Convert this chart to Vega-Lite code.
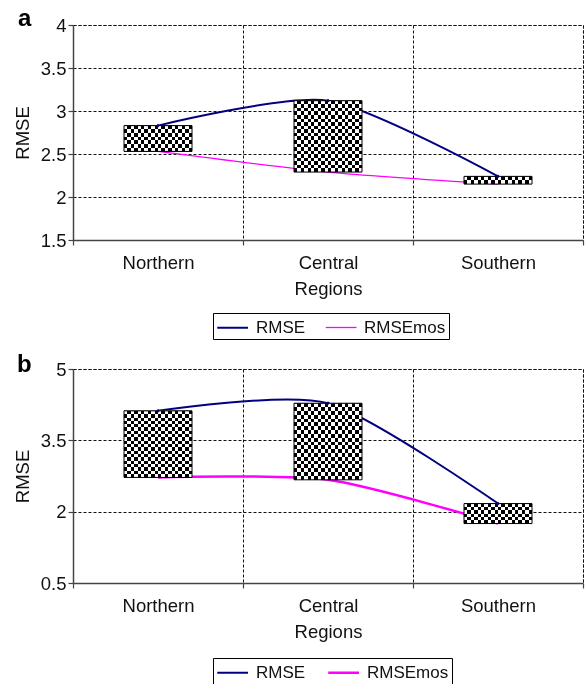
{
  "$schema": "https://vega.github.io/schema/vega-lite/v6.json",
  "background": "white",
  "padding": {"left": 12, "top": 6, "right": 4, "bottom": 2},
  "config": {
    "font": "Liberation Sans",
    "view": {"stroke": "#111", "strokeDash": [3, 2], "strokeWidth": 1},
    "concat": {"spacing": 12},
    "axis": {
      "labelFont": "Liberation Sans", "titleFont": "Liberation Sans",
      "labelFontSize": 18.5, "titleFontSize": 18.5, "titleFontWeight": "normal",
      "labelColor": "#111", "titleColor": "#111",
      "domainColor": "#444", "domainWidth": 1.5,
      "tickColor": "#444", "tickSize": 5, "tickWidth": 1.2,
      "gridColor": "#111", "gridDash": [3, 2], "gridWidth": 1
    },
    "axisX": {"labelPadding": 8, "titlePadding": 8},
    "axisY": {"labelPadding": 2, "titlePadding": 8},
    "legend": {
      "orient": "none", "direction": "horizontal", "title": null,
      "strokeColor": "#000", "padding": 3,
      "labelFont": "Liberation Sans", "labelFontSize": 17, "labelColor": "#111",
      "symbolType": "M-1,0H2", "symbolSize": 420, "symbolStrokeWidth": 2,
      "columnPadding": 17, "labelOffset": 17
    }
  },
  "datasets": {
    "a": [
      {"region": "Northern", "RMSE": 2.83, "RMSEmos": 2.53},
      {"region": "Central", "RMSE": 3.12, "RMSEmos": 2.29},
      {"region": "Southern", "RMSE": 2.24, "RMSEmos": 2.15}
    ],
    "b": [
      {"region": "Northern", "RMSE": 4.12, "RMSEmos": 2.72},
      {"region": "Central", "RMSE": 4.28, "RMSEmos": 2.67},
      {"region": "Southern", "RMSE": 2.17, "RMSEmos": 1.75}
    ]
  },
  "resolve": {"scale": {"color": "independent", "strokeWidth": "independent", "y": "independent"}, "legend": {"color": "independent"}},
  "vconcat": [
    {
      "data": {"name": "a"},
      "width": 510, "height": 215,
      "title": {"text": "a", "anchor": "start", "frame": "group", "fontSize": 24, "fontWeight": "bold", "font": "Liberation Sans", "color": "#000", "dx": -55, "offset": -34, "baseline": "alphabetic"},
      "encoding": {
        "x": {"field": "region", "type": "nominal", "sort": ["Northern", "Central", "Southern"], "scale": {"paddingInner": 0, "paddingOuter": 0}, "axis": {"title": "Regions", "tickBand": "extent", "labelAngle": 0, "grid": true}}
      },
      "layer": [
        {
          "transform": [{"fold": ["RMSE", "RMSEmos"], "as": ["series", "value"]}],
          "mark": {"type": "line", "interpolate": "cardinal", "tension": 0.25},
          "encoding": {
            "y": {"field": "value", "type": "quantitative", "title": "RMSE", "scale": {"domain": [1.5, 4], "nice": false, "zero": false}, "axis": {"values": [1.5, 2, 2.5, 3, 3.5, 4], "format": ".1~f", "grid": true}},
            "color": {"field": "series", "type": "nominal", "scale": {"domain": ["RMSE", "RMSEmos"], "range": ["#000080", "#ff00ff"]}, "legend": {"legendX": 140, "legendY": 288}},
            "strokeWidth": {"field": "series", "type": "nominal", "scale": {"domain": ["RMSE", "RMSEmos"], "range": [2, 1.3]}, "legend": null}
          }
        },
        {
          "mark": {"type": "bar", "width": {"band": 0.4}, "fill": {"gradient": "linear", "x1": 0, "y1": 0, "x2": 1, "y2": 0, "stops": [{"offset":0,"color":"#000"},{"offset":0.05,"color":"#000"},{"offset":0.05,"color":"#fff"},{"offset":0.1,"color":"#fff"},{"offset":0.1,"color":"#000"},{"offset":0.15,"color":"#000"},{"offset":0.15,"color":"#fff"},{"offset":0.2,"color":"#fff"},{"offset":0.2,"color":"#000"},{"offset":0.25,"color":"#000"},{"offset":0.25,"color":"#fff"},{"offset":0.3,"color":"#fff"},{"offset":0.3,"color":"#000"},{"offset":0.35,"color":"#000"},{"offset":0.35,"color":"#fff"},{"offset":0.4,"color":"#fff"},{"offset":0.4,"color":"#000"},{"offset":0.45,"color":"#000"},{"offset":0.45,"color":"#fff"},{"offset":0.5,"color":"#fff"},{"offset":0.5,"color":"#000"},{"offset":0.55,"color":"#000"},{"offset":0.55,"color":"#fff"},{"offset":0.6,"color":"#fff"},{"offset":0.6,"color":"#000"},{"offset":0.65,"color":"#000"},{"offset":0.65,"color":"#fff"},{"offset":0.7,"color":"#fff"},{"offset":0.7,"color":"#000"},{"offset":0.75,"color":"#000"},{"offset":0.75,"color":"#fff"},{"offset":0.8,"color":"#fff"},{"offset":0.8,"color":"#000"},{"offset":0.85,"color":"#000"},{"offset":0.85,"color":"#fff"},{"offset":0.9,"color":"#fff"},{"offset":0.9,"color":"#000"},{"offset":0.95,"color":"#000"},{"offset":0.95,"color":"#fff"},{"offset":1,"color":"#fff"}]}},
          "encoding": {
            "y": {"field": "RMSE", "type": "quantitative", "title": "RMSE", "scale": {"domain": [1.5, 4], "nice": false, "zero": false}},
            "y2": {"field": "RMSEmos"}
          }
        },
        {
          "transform": [{"filter": "datum.region === 'Northern'"}],
          "mark": {"type": "bar", "width": {"band": 0.4}, "blend": "difference", "fill": {"gradient": "linear", "x1": 0, "y1": 0, "x2": 0, "y2": 1, "stops": [{"offset":0,"color":"#fff"},{"offset":0.1429,"color":"#fff"},{"offset":0.1429,"color":"#000"},{"offset":0.2857,"color":"#000"},{"offset":0.2857,"color":"#fff"},{"offset":0.4286,"color":"#fff"},{"offset":0.4286,"color":"#000"},{"offset":0.5714,"color":"#000"},{"offset":0.5714,"color":"#fff"},{"offset":0.7143,"color":"#fff"},{"offset":0.7143,"color":"#000"},{"offset":0.8571,"color":"#000"},{"offset":0.8571,"color":"#fff"},{"offset":1,"color":"#fff"}]}},
          "encoding": {
            "y": {"field": "RMSE", "type": "quantitative", "title": "RMSE", "scale": {"domain": [1.5, 4], "nice": false, "zero": false}},
            "y2": {"field": "RMSEmos"}
          }
        },
        {
          "transform": [{"filter": "datum.region === 'Central'"}],
          "mark": {"type": "bar", "width": {"band": 0.4}, "blend": "difference", "fill": {"gradient": "linear", "x1": 0, "y1": 0, "x2": 0, "y2": 1, "stops": [{"offset":0,"color":"#fff"},{"offset":0.05,"color":"#fff"},{"offset":0.05,"color":"#000"},{"offset":0.1,"color":"#000"},{"offset":0.1,"color":"#fff"},{"offset":0.15,"color":"#fff"},{"offset":0.15,"color":"#000"},{"offset":0.2,"color":"#000"},{"offset":0.2,"color":"#fff"},{"offset":0.25,"color":"#fff"},{"offset":0.25,"color":"#000"},{"offset":0.3,"color":"#000"},{"offset":0.3,"color":"#fff"},{"offset":0.35,"color":"#fff"},{"offset":0.35,"color":"#000"},{"offset":0.4,"color":"#000"},{"offset":0.4,"color":"#fff"},{"offset":0.45,"color":"#fff"},{"offset":0.45,"color":"#000"},{"offset":0.5,"color":"#000"},{"offset":0.5,"color":"#fff"},{"offset":0.55,"color":"#fff"},{"offset":0.55,"color":"#000"},{"offset":0.6,"color":"#000"},{"offset":0.6,"color":"#fff"},{"offset":0.65,"color":"#fff"},{"offset":0.65,"color":"#000"},{"offset":0.7,"color":"#000"},{"offset":0.7,"color":"#fff"},{"offset":0.75,"color":"#fff"},{"offset":0.75,"color":"#000"},{"offset":0.8,"color":"#000"},{"offset":0.8,"color":"#fff"},{"offset":0.85,"color":"#fff"},{"offset":0.85,"color":"#000"},{"offset":0.9,"color":"#000"},{"offset":0.9,"color":"#fff"},{"offset":0.95,"color":"#fff"},{"offset":0.95,"color":"#000"},{"offset":1,"color":"#000"}]}},
          "encoding": {
            "y": {"field": "RMSE", "type": "quantitative", "title": "RMSE", "scale": {"domain": [1.5, 4], "nice": false, "zero": false}},
            "y2": {"field": "RMSEmos"}
          }
        },
        {
          "transform": [{"filter": "datum.region === 'Southern'"}],
          "mark": {"type": "bar", "width": {"band": 0.4}, "blend": "difference", "fill": {"gradient": "linear", "x1": 0, "y1": 0, "x2": 0, "y2": 1, "stops": [{"offset":0,"color":"#fff"},{"offset":0.5,"color":"#fff"},{"offset":0.5,"color":"#000"},{"offset":1,"color":"#000"}]}},
          "encoding": {
            "y": {"field": "RMSE", "type": "quantitative", "title": "RMSE", "scale": {"domain": [1.5, 4], "nice": false, "zero": false}},
            "y2": {"field": "RMSEmos"}
          }
        },
        {
          "mark": {"type": "bar", "width": {"band": 0.4}, "fillOpacity": 0, "stroke": "#000", "strokeWidth": 1},
          "encoding": {
            "y": {"field": "RMSE", "type": "quantitative", "title": "RMSE", "scale": {"domain": [1.5, 4], "nice": false, "zero": false}},
            "y2": {"field": "RMSEmos"}
          }
        },
        {
          "mark": {"type": "point", "shape": "diamond", "filled": true, "size": 14, "color": "#000080", "opacity": 1},
          "encoding": {
            "y": {"field": "RMSE", "type": "quantitative", "title": "RMSE", "scale": {"domain": [1.5, 4], "nice": false, "zero": false}}
          }
        }
      ]
    },
    {
      "data": {"name": "b"},
      "width": 510, "height": 214,
      "title": {"text": "b", "anchor": "start", "frame": "group", "fontSize": 24, "fontWeight": "bold", "font": "Liberation Sans", "color": "#000", "dx": -56, "offset": -36, "baseline": "alphabetic"},
      "encoding": {
        "x": {"field": "region", "type": "nominal", "sort": ["Northern", "Central", "Southern"], "scale": {"paddingInner": 0, "paddingOuter": 0}, "axis": {"title": "Regions", "tickBand": "extent", "labelAngle": 0, "grid": true}}
      },
      "layer": [
        {
          "transform": [{"fold": ["RMSE", "RMSEmos"], "as": ["series", "value"]}],
          "mark": {"type": "line", "interpolate": "cardinal", "tension": 0.25},
          "encoding": {
            "y": {"field": "value", "type": "quantitative", "title": "RMSE", "scale": {"domain": [0.5, 5], "nice": false, "zero": false}, "axis": {"values": [0.5, 2, 3.5, 5], "format": ".1~f", "grid": true}},
            "color": {"field": "series", "type": "nominal", "scale": {"domain": ["RMSE", "RMSEmos"], "range": ["#000080", "#ff00ff"]}, "legend": {"legendX": 140, "legendY": 289}},
            "strokeWidth": {"field": "series", "type": "nominal", "scale": {"domain": ["RMSE", "RMSEmos"], "range": [2, 2.5]}, "legend": null}
          }
        },
        {
          "mark": {"type": "bar", "width": {"band": 0.4}, "fill": {"gradient": "linear", "x1": 0, "y1": 0, "x2": 1, "y2": 0, "stops": [{"offset":0,"color":"#000"},{"offset":0.05,"color":"#000"},{"offset":0.05,"color":"#fff"},{"offset":0.1,"color":"#fff"},{"offset":0.1,"color":"#000"},{"offset":0.15,"color":"#000"},{"offset":0.15,"color":"#fff"},{"offset":0.2,"color":"#fff"},{"offset":0.2,"color":"#000"},{"offset":0.25,"color":"#000"},{"offset":0.25,"color":"#fff"},{"offset":0.3,"color":"#fff"},{"offset":0.3,"color":"#000"},{"offset":0.35,"color":"#000"},{"offset":0.35,"color":"#fff"},{"offset":0.4,"color":"#fff"},{"offset":0.4,"color":"#000"},{"offset":0.45,"color":"#000"},{"offset":0.45,"color":"#fff"},{"offset":0.5,"color":"#fff"},{"offset":0.5,"color":"#000"},{"offset":0.55,"color":"#000"},{"offset":0.55,"color":"#fff"},{"offset":0.6,"color":"#fff"},{"offset":0.6,"color":"#000"},{"offset":0.65,"color":"#000"},{"offset":0.65,"color":"#fff"},{"offset":0.7,"color":"#fff"},{"offset":0.7,"color":"#000"},{"offset":0.75,"color":"#000"},{"offset":0.75,"color":"#fff"},{"offset":0.8,"color":"#fff"},{"offset":0.8,"color":"#000"},{"offset":0.85,"color":"#000"},{"offset":0.85,"color":"#fff"},{"offset":0.9,"color":"#fff"},{"offset":0.9,"color":"#000"},{"offset":0.95,"color":"#000"},{"offset":0.95,"color":"#fff"},{"offset":1,"color":"#fff"}]}},
          "encoding": {
            "y": {"field": "RMSE", "type": "quantitative", "title": "RMSE", "scale": {"domain": [0.5, 5], "nice": false, "zero": false}},
            "y2": {"field": "RMSEmos"}
          }
        },
        {
          "transform": [{"filter": "datum.region !== 'Southern'"}],
          "mark": {"type": "bar", "width": {"band": 0.4}, "blend": "difference", "fill": {"gradient": "linear", "x1": 0, "y1": 0, "x2": 0, "y2": 1, "stops": [{"offset":0,"color":"#fff"},{"offset":0.05,"color":"#fff"},{"offset":0.05,"color":"#000"},{"offset":0.1,"color":"#000"},{"offset":0.1,"color":"#fff"},{"offset":0.15,"color":"#fff"},{"offset":0.15,"color":"#000"},{"offset":0.2,"color":"#000"},{"offset":0.2,"color":"#fff"},{"offset":0.25,"color":"#fff"},{"offset":0.25,"color":"#000"},{"offset":0.3,"color":"#000"},{"offset":0.3,"color":"#fff"},{"offset":0.35,"color":"#fff"},{"offset":0.35,"color":"#000"},{"offset":0.4,"color":"#000"},{"offset":0.4,"color":"#fff"},{"offset":0.45,"color":"#fff"},{"offset":0.45,"color":"#000"},{"offset":0.5,"color":"#000"},{"offset":0.5,"color":"#fff"},{"offset":0.55,"color":"#fff"},{"offset":0.55,"color":"#000"},{"offset":0.6,"color":"#000"},{"offset":0.6,"color":"#fff"},{"offset":0.65,"color":"#fff"},{"offset":0.65,"color":"#000"},{"offset":0.7,"color":"#000"},{"offset":0.7,"color":"#fff"},{"offset":0.75,"color":"#fff"},{"offset":0.75,"color":"#000"},{"offset":0.8,"color":"#000"},{"offset":0.8,"color":"#fff"},{"offset":0.85,"color":"#fff"},{"offset":0.85,"color":"#000"},{"offset":0.9,"color":"#000"},{"offset":0.9,"color":"#fff"},{"offset":0.95,"color":"#fff"},{"offset":0.95,"color":"#000"},{"offset":1,"color":"#000"}]}},
          "encoding": {
            "y": {"field": "RMSE", "type": "quantitative", "title": "RMSE", "scale": {"domain": [0.5, 5], "nice": false, "zero": false}},
            "y2": {"field": "RMSEmos"}
          }
        },
        {
          "transform": [{"filter": "datum.region === 'Southern'"}],
          "mark": {"type": "bar", "width": {"band": 0.4}, "blend": "difference", "fill": {"gradient": "linear", "x1": 0, "y1": 0, "x2": 0, "y2": 1, "stops": [{"offset":0,"color":"#fff"},{"offset":0.1667,"color":"#fff"},{"offset":0.1667,"color":"#000"},{"offset":0.3333,"color":"#000"},{"offset":0.3333,"color":"#fff"},{"offset":0.5,"color":"#fff"},{"offset":0.5,"color":"#000"},{"offset":0.6667,"color":"#000"},{"offset":0.6667,"color":"#fff"},{"offset":0.8333,"color":"#fff"},{"offset":0.8333,"color":"#000"},{"offset":1,"color":"#000"}]}},
          "encoding": {
            "y": {"field": "RMSE", "type": "quantitative", "title": "RMSE", "scale": {"domain": [0.5, 5], "nice": false, "zero": false}},
            "y2": {"field": "RMSEmos"}
          }
        },
        {
          "mark": {"type": "bar", "width": {"band": 0.4}, "fillOpacity": 0, "stroke": "#000", "strokeWidth": 1},
          "encoding": {
            "y": {"field": "RMSE", "type": "quantitative", "title": "RMSE", "scale": {"domain": [0.5, 5], "nice": false, "zero": false}},
            "y2": {"field": "RMSEmos"}
          }
        },
        {
          "mark": {"type": "point", "shape": "diamond", "filled": true, "size": 14, "color": "#000080", "opacity": 1},
          "encoding": {
            "y": {"field": "RMSE", "type": "quantitative", "title": "RMSE", "scale": {"domain": [0.5, 5], "nice": false, "zero": false}}
          }
        }
      ]
    }
  ]
}
